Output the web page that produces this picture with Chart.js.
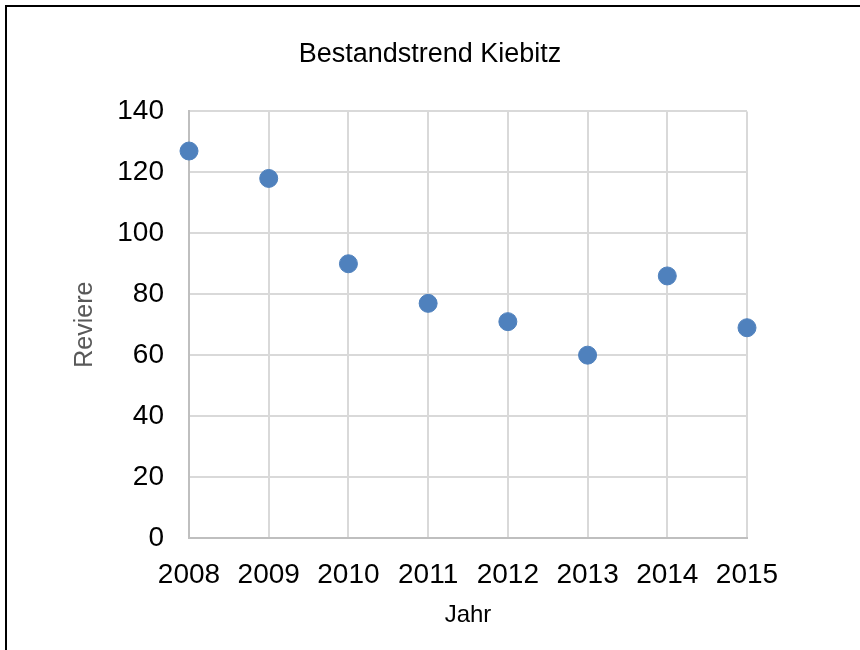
<!DOCTYPE html>
<html>
<head>
<meta charset="utf-8">
<script src="https://cdn.jsdelivr.net/npm/chart.js@4"></script>
<style>
    body { margin: 0; background: #fff; }
    .wrap { position: relative; width: 860px; height: 650px; overflow: hidden; }
    .frame { position: absolute; left: 5px; top: 5px; width: 900px; height: 700px; border: 2px solid #000; }
    canvas { position: absolute; left: 0; top: 0; }
</style>
</head>
<body>
<div class="wrap">
    <div class="frame"></div>
    <canvas id="chart" width="860" height="650"></canvas>
</div>
<script>
// Daten: Reviere pro Jahr
const years = [2008, 2009, 2010, 2011, 2012, 2013, 2014, 2015];
const reviere = [127, 118, 90, 77, 71, 60, 86, 69];
const yTicks = [0, 20, 40, 60, 80, 100, 120, 140];

const fontName = '"Liberation Sans", Arial, sans-serif';

const ctx = document.getElementById('chart').getContext('2d');

new Chart(ctx, {
    type: 'scatter',
    data: {
        datasets: [{
            label: 'Reviere',
            data: years.map((y, i) => ({ x: y, y: reviere[i] })),
            backgroundColor: '#4f81bd',
            borderColor: '#4f81bd',
            pointRadius: 9,
            pointHoverRadius: 9,
            showLine: false,
            clip: false // Punkte am Rand nicht abschneiden
        }]
    },
    options: {
        responsive: false,
        animation: false,
        layout: { padding: 0 },
        plugins: {
            legend: { display: false },
            tooltip: { enabled: false },
            title: {
                display: true,
                text: 'Bestandstrend Kiebitz',
                color: '#000',
                font: { family: fontName, size: 27, weight: 'normal' },
                padding: { top: 38, bottom: 41 }
            }
        },
        scales: {
            x: {
                type: 'linear',
                min: years[0],
                max: years[years.length - 1],
                afterFit: s => { s.height = 112; },
                ticks: {
                    stepSize: 1,
                    padding: 20,
                    color: '#000',
                    font: { family: fontName, size: 28 },
                    callback: v => String(v)
                },
                grid: { color: '#d9d9d9', lineWidth: 2, drawTicks: false },
                border: { color: '#bfbfbf', width: 2 },
                title: {
                    display: true,
                    text: 'Jahr',
                    color: '#000',
                    font: { family: fontName, size: 24 },
                    padding: { top: 0, bottom: 20 }
                }
            },
            y: {
                min: 0,
                max: 140,
                afterFit: s => { s.width = 189; },
                afterBuildTicks: s => { s.ticks = yTicks.map(v => ({ value: v })); },
                ticks: {
                    padding: 25,
                    color: '#000',
                    font: { family: fontName, size: 28 }
                },
                grid: { color: '#d9d9d9', lineWidth: 2, drawTicks: false },
                border: { color: '#bfbfbf', width: 2 },
                title: {
                    display: true,
                    text: 'Reviere',
                    color: '#595959',
                    font: { family: fontName, size: 25 },
                    padding: { top: 70, bottom: 0 }
                }
            },
            // leere Achse rechts, damit der Titel mittig über dem ganzen Bild steht
            rightSpace: {
                type: 'linear',
                position: 'right',
                display: true,
                afterFit: s => { s.width = 113; },
                ticks: { display: false },
                grid: { display: false, drawTicks: false },
                border: { display: false }
            }
        }
    }
});
</script>
</body>
</html>
